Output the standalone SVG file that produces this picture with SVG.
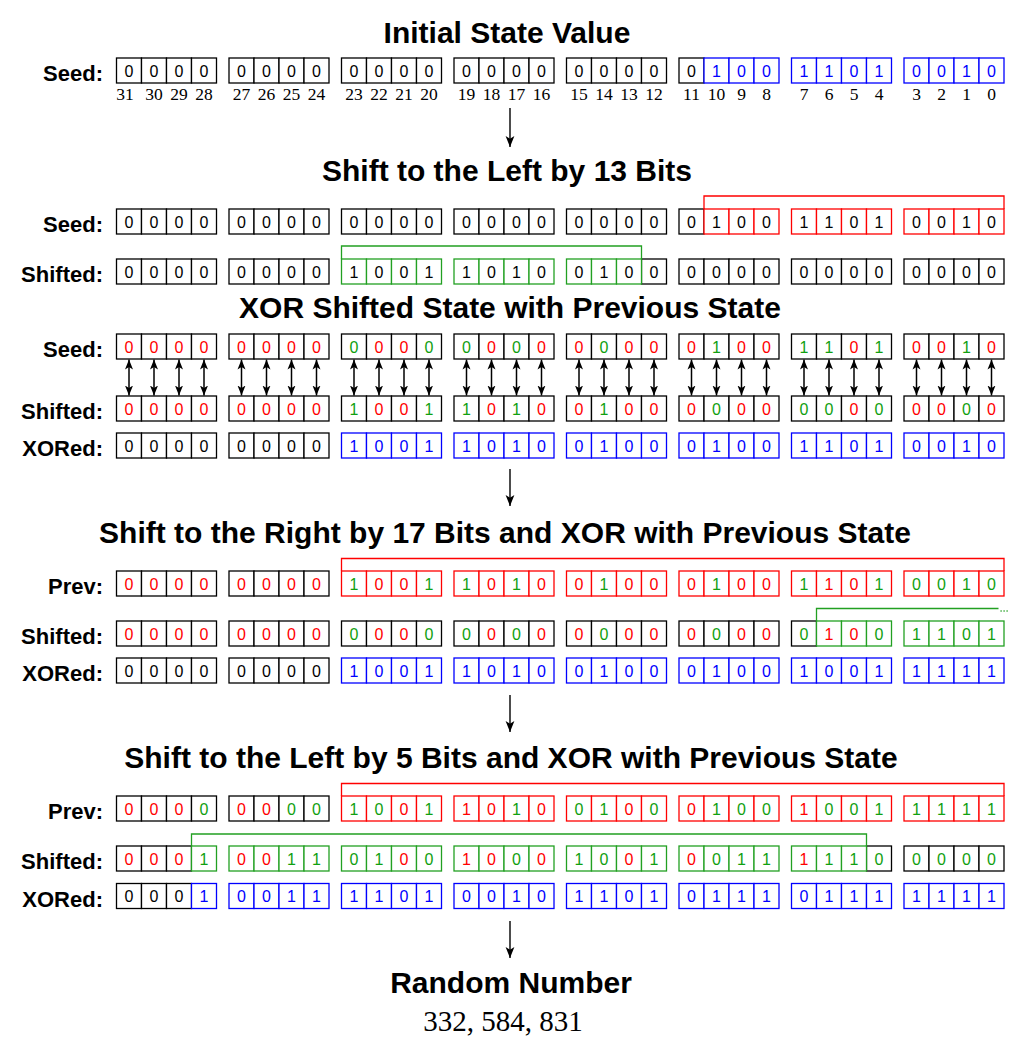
<svg xmlns="http://www.w3.org/2000/svg" width="1026" height="1057" viewBox="0 0 1026 1057">
<style>
rect.ck,rect.cr,rect.cg,rect.cb{fill:#fff;stroke-width:1.3}
.ck{stroke:#000}.cr{stroke:#f00}.cg{stroke:#22a022}.cb{stroke:#00f}
.d{font-family:"Liberation Sans",Arial,sans-serif;font-size:16px;text-anchor:middle}
.tk{fill:#000}.tr{fill:#f00}.tg{fill:#10a010}.tb{fill:#00f}
.l{font-family:"Liberation Sans",Arial,sans-serif;font-size:22px;font-weight:bold;text-anchor:end}
.t{font-family:"Liberation Sans",Arial,sans-serif;font-size:30px;font-weight:bold;text-anchor:middle}
.n{font-family:"Liberation Serif","Times New Roman",serif;font-size:17.5px;text-anchor:middle}
.ln{fill:none;stroke:#000;stroke-width:1.4}
.da{fill:none;stroke:#000;stroke-width:1.5;marker-start:url(#ah2);marker-end:url(#ah2)}
.br{fill:none;stroke-width:1.3}
</style>
<defs>
<marker id="ah" viewBox="0 0 10 8" refX="10" refY="4" markerWidth="11" markerHeight="10" markerUnits="userSpaceOnUse" orient="auto-start-reverse"><path d="M0,0 L10,4 L0,8 L2.5,4 z" fill="#000"/></marker>
<marker id="ah2" viewBox="0 0 10 8" refX="10" refY="4" markerWidth="10" markerHeight="9" markerUnits="userSpaceOnUse" orient="auto-start-reverse"><path d="M0,0 L10,4 L0,8 L2.5,4 z" fill="#000"/></marker>
</defs>
<rect width="1026" height="1057" fill="#fff"/>

<g id="titles">
<text class="t" x="507" y="43">Initial State Value</text>
<text class="t" x="507" y="181">Shift to the Left by 13 Bits</text>
<text class="t" x="510" y="318">XOR Shifted State with Previous State</text>
<text class="t" x="505" y="543">Shift to the Right by 17 Bits and XOR with Previous State</text>
<text class="t" x="511" y="768">Shift to the Left by 5 Bits and XOR with Previous State</text>
<text class="t" x="511" y="993">Random Number</text>
<text class="n" x="503" y="1031" style="font-size:29px">332, 584, 831</text>
</g>

<g id="init-seed">
<text class="l" x="103" y="81">Seed:</text>
<rect class="ck" x="116.5" y="58" width="25" height="25"/><rect class="ck" x="141.5" y="58" width="25" height="25"/><rect class="ck" x="166.5" y="58" width="25" height="25"/><rect class="ck" x="191.5" y="58" width="25" height="25"/>
<rect class="ck" x="229" y="58" width="25" height="25"/><rect class="ck" x="254" y="58" width="25" height="25"/><rect class="ck" x="279" y="58" width="25" height="25"/><rect class="ck" x="304" y="58" width="25" height="25"/>
<rect class="ck" x="341.5" y="58" width="25" height="25"/><rect class="ck" x="366.5" y="58" width="25" height="25"/><rect class="ck" x="391.5" y="58" width="25" height="25"/><rect class="ck" x="416.5" y="58" width="25" height="25"/>
<rect class="ck" x="454" y="58" width="25" height="25"/><rect class="ck" x="479" y="58" width="25" height="25"/><rect class="ck" x="504" y="58" width="25" height="25"/><rect class="ck" x="529" y="58" width="25" height="25"/>
<rect class="ck" x="566.5" y="58" width="25" height="25"/><rect class="ck" x="591.5" y="58" width="25" height="25"/><rect class="ck" x="616.5" y="58" width="25" height="25"/><rect class="ck" x="641.5" y="58" width="25" height="25"/>
<rect class="ck" x="679" y="58" width="25" height="25"/>
<rect class="cb" x="704" y="58" width="25" height="25"/><rect class="cb" x="729" y="58" width="25" height="25"/><rect class="cb" x="754" y="58" width="25" height="25"/>
<rect class="cb" x="791.5" y="58" width="25" height="25"/><rect class="cb" x="816.5" y="58" width="25" height="25"/><rect class="cb" x="841.5" y="58" width="25" height="25"/><rect class="cb" x="866.5" y="58" width="25" height="25"/>
<rect class="cb" x="904" y="58" width="25" height="25"/><rect class="cb" x="929" y="58" width="25" height="25"/><rect class="cb" x="954" y="58" width="25" height="25"/><rect class="cb" x="979" y="58" width="25" height="25"/>
<text class="d" y="76.5" x="129 154 179 204 241.5 266.5 291.5 316.5 354 379 404 429 466.5 491.5 516.5 541.5 579 604 629 654 691.5 716.5 741.5 766.5 804 829 854 879 916.5 941.5 966.5 991.5"><tspan class="tk">000000000000000000000</tspan><tspan class="tb">10011010010</tspan></text>
<text class="n" y="100"><tspan x="125">31</tspan><tspan x="154">30</tspan><tspan x="179">29</tspan><tspan x="204">28</tspan><tspan x="241.5">27</tspan><tspan x="266.5">26</tspan><tspan x="291.5">25</tspan><tspan x="316.5">24</tspan><tspan x="354">23</tspan><tspan x="379">22</tspan><tspan x="404">21</tspan><tspan x="429">20</tspan><tspan x="466.5">19</tspan><tspan x="491.5">18</tspan><tspan x="516.5">17</tspan><tspan x="541.5">16</tspan><tspan x="579">15</tspan><tspan x="604">14</tspan><tspan x="629">13</tspan><tspan x="654">12</tspan><tspan x="691.5">11</tspan><tspan x="716.5">10</tspan><tspan x="741.5">9</tspan><tspan x="766.5">8</tspan><tspan x="804">7</tspan><tspan x="829">6</tspan><tspan x="854">5</tspan><tspan x="879">4</tspan><tspan x="916.5">3</tspan><tspan x="941.5">2</tspan><tspan x="966.5">1</tspan><tspan x="991.5">0</tspan></text>
</g>

<g id="shl13-seed">
<text class="l" x="103" y="232">Seed:</text>
<rect class="ck" x="116.5" y="209" width="25" height="25"/><rect class="ck" x="141.5" y="209" width="25" height="25"/><rect class="ck" x="166.5" y="209" width="25" height="25"/><rect class="ck" x="191.5" y="209" width="25" height="25"/>
<rect class="ck" x="229" y="209" width="25" height="25"/><rect class="ck" x="254" y="209" width="25" height="25"/><rect class="ck" x="279" y="209" width="25" height="25"/><rect class="ck" x="304" y="209" width="25" height="25"/>
<rect class="ck" x="341.5" y="209" width="25" height="25"/><rect class="ck" x="366.5" y="209" width="25" height="25"/><rect class="ck" x="391.5" y="209" width="25" height="25"/><rect class="ck" x="416.5" y="209" width="25" height="25"/>
<rect class="ck" x="454" y="209" width="25" height="25"/><rect class="ck" x="479" y="209" width="25" height="25"/><rect class="ck" x="504" y="209" width="25" height="25"/><rect class="ck" x="529" y="209" width="25" height="25"/>
<rect class="ck" x="566.5" y="209" width="25" height="25"/><rect class="ck" x="591.5" y="209" width="25" height="25"/><rect class="ck" x="616.5" y="209" width="25" height="25"/><rect class="ck" x="641.5" y="209" width="25" height="25"/>
<rect class="ck" x="679" y="209" width="25" height="25"/>
<rect class="cr" x="704" y="209" width="25" height="25"/><rect class="cr" x="729" y="209" width="25" height="25"/><rect class="cr" x="754" y="209" width="25" height="25"/>
<rect class="cr" x="791.5" y="209" width="25" height="25"/><rect class="cr" x="816.5" y="209" width="25" height="25"/><rect class="cr" x="841.5" y="209" width="25" height="25"/><rect class="cr" x="866.5" y="209" width="25" height="25"/>
<rect class="cr" x="904" y="209" width="25" height="25"/><rect class="cr" x="929" y="209" width="25" height="25"/><rect class="cr" x="954" y="209" width="25" height="25"/><rect class="cr" x="979" y="209" width="25" height="25"/>
<text class="d tk" y="227.5" x="129 154 179 204 241.5 266.5 291.5 316.5 354 379 404 429 466.5 491.5 516.5 541.5 579 604 629 654 691.5 716.5 741.5 766.5 804 829 854 879 916.5 941.5 966.5 991.5">00000000000000000000010011010010</text>
</g>

<g id="shl13-shifted">
<text class="l" x="103" y="282">Shifted:</text>
<rect class="ck" x="116.5" y="259" width="25" height="25"/><rect class="ck" x="141.5" y="259" width="25" height="25"/><rect class="ck" x="166.5" y="259" width="25" height="25"/><rect class="ck" x="191.5" y="259" width="25" height="25"/>
<rect class="ck" x="229" y="259" width="25" height="25"/><rect class="ck" x="254" y="259" width="25" height="25"/><rect class="ck" x="279" y="259" width="25" height="25"/><rect class="ck" x="304" y="259" width="25" height="25"/>
<rect class="ck" x="641.5" y="259" width="25" height="25"/>
<rect class="ck" x="679" y="259" width="25" height="25"/><rect class="ck" x="704" y="259" width="25" height="25"/><rect class="ck" x="729" y="259" width="25" height="25"/><rect class="ck" x="754" y="259" width="25" height="25"/>
<rect class="ck" x="791.5" y="259" width="25" height="25"/><rect class="ck" x="816.5" y="259" width="25" height="25"/><rect class="ck" x="841.5" y="259" width="25" height="25"/><rect class="ck" x="866.5" y="259" width="25" height="25"/>
<rect class="ck" x="904" y="259" width="25" height="25"/><rect class="ck" x="929" y="259" width="25" height="25"/><rect class="ck" x="954" y="259" width="25" height="25"/><rect class="ck" x="979" y="259" width="25" height="25"/>
<rect class="cg" x="341.5" y="259" width="25" height="25"/><rect class="cg" x="366.5" y="259" width="25" height="25"/><rect class="cg" x="391.5" y="259" width="25" height="25"/><rect class="cg" x="416.5" y="259" width="25" height="25"/>
<rect class="cg" x="454" y="259" width="25" height="25"/><rect class="cg" x="479" y="259" width="25" height="25"/><rect class="cg" x="504" y="259" width="25" height="25"/><rect class="cg" x="529" y="259" width="25" height="25"/>
<rect class="cg" x="566.5" y="259" width="25" height="25"/><rect class="cg" x="591.5" y="259" width="25" height="25"/><rect class="cg" x="616.5" y="259" width="25" height="25"/>
<text class="d tk" y="277.5" x="129 154 179 204 241.5 266.5 291.5 316.5 354 379 404 429 466.5 491.5 516.5 541.5 579 604 629 654 691.5 716.5 741.5 766.5 804 829 854 879 916.5 941.5 966.5 991.5">00000000100110100100000000000000</text>
</g>

<g id="xor-seed">
<text class="l" x="103" y="357">Seed:</text>
<rect class="ck" x="116.5" y="334" width="25" height="25"/><rect class="ck" x="141.5" y="334" width="25" height="25"/><rect class="ck" x="166.5" y="334" width="25" height="25"/><rect class="ck" x="191.5" y="334" width="25" height="25"/>
<rect class="ck" x="229" y="334" width="25" height="25"/><rect class="ck" x="254" y="334" width="25" height="25"/><rect class="ck" x="279" y="334" width="25" height="25"/><rect class="ck" x="304" y="334" width="25" height="25"/>
<rect class="ck" x="341.5" y="334" width="25" height="25"/><rect class="ck" x="366.5" y="334" width="25" height="25"/><rect class="ck" x="391.5" y="334" width="25" height="25"/><rect class="ck" x="416.5" y="334" width="25" height="25"/>
<rect class="ck" x="454" y="334" width="25" height="25"/><rect class="ck" x="479" y="334" width="25" height="25"/><rect class="ck" x="504" y="334" width="25" height="25"/><rect class="ck" x="529" y="334" width="25" height="25"/>
<rect class="ck" x="566.5" y="334" width="25" height="25"/><rect class="ck" x="591.5" y="334" width="25" height="25"/><rect class="ck" x="616.5" y="334" width="25" height="25"/><rect class="ck" x="641.5" y="334" width="25" height="25"/>
<rect class="ck" x="679" y="334" width="25" height="25"/><rect class="ck" x="704" y="334" width="25" height="25"/><rect class="ck" x="729" y="334" width="25" height="25"/><rect class="ck" x="754" y="334" width="25" height="25"/>
<rect class="ck" x="791.5" y="334" width="25" height="25"/><rect class="ck" x="816.5" y="334" width="25" height="25"/><rect class="ck" x="841.5" y="334" width="25" height="25"/><rect class="ck" x="866.5" y="334" width="25" height="25"/>
<rect class="ck" x="904" y="334" width="25" height="25"/><rect class="ck" x="929" y="334" width="25" height="25"/><rect class="ck" x="954" y="334" width="25" height="25"/><rect class="ck" x="979" y="334" width="25" height="25"/>
<text class="d" y="352.5" x="129 154 179 204 241.5 266.5 291.5 316.5 354 379 404 429 466.5 491.5 516.5 541.5 579 604 629 654 691.5 716.5 741.5 766.5 804 829 854 879 916.5 941.5 966.5 991.5"><tspan class="tr">00000000</tspan><tspan class="tg">0</tspan><tspan class="tr">00</tspan><tspan class="tg">00</tspan><tspan class="tr">0</tspan><tspan class="tg">0</tspan><tspan class="tr">00</tspan><tspan class="tg">0</tspan><tspan class="tr">000</tspan><tspan class="tg">1</tspan><tspan class="tr">00</tspan><tspan class="tg">11</tspan><tspan class="tr">0</tspan><tspan class="tg">1</tspan><tspan class="tr">00</tspan><tspan class="tg">1</tspan><tspan class="tr">0</tspan></text>
</g>

<g id="xor-shifted">
<text class="l" x="103" y="419">Shifted:</text>
<rect class="ck" x="116.5" y="396" width="25" height="25"/><rect class="ck" x="141.5" y="396" width="25" height="25"/><rect class="ck" x="166.5" y="396" width="25" height="25"/><rect class="ck" x="191.5" y="396" width="25" height="25"/>
<rect class="ck" x="229" y="396" width="25" height="25"/><rect class="ck" x="254" y="396" width="25" height="25"/><rect class="ck" x="279" y="396" width="25" height="25"/><rect class="ck" x="304" y="396" width="25" height="25"/>
<rect class="ck" x="341.5" y="396" width="25" height="25"/><rect class="ck" x="366.5" y="396" width="25" height="25"/><rect class="ck" x="391.5" y="396" width="25" height="25"/><rect class="ck" x="416.5" y="396" width="25" height="25"/>
<rect class="ck" x="454" y="396" width="25" height="25"/><rect class="ck" x="479" y="396" width="25" height="25"/><rect class="ck" x="504" y="396" width="25" height="25"/><rect class="ck" x="529" y="396" width="25" height="25"/>
<rect class="ck" x="566.5" y="396" width="25" height="25"/><rect class="ck" x="591.5" y="396" width="25" height="25"/><rect class="ck" x="616.5" y="396" width="25" height="25"/><rect class="ck" x="641.5" y="396" width="25" height="25"/>
<rect class="ck" x="679" y="396" width="25" height="25"/><rect class="ck" x="704" y="396" width="25" height="25"/><rect class="ck" x="729" y="396" width="25" height="25"/><rect class="ck" x="754" y="396" width="25" height="25"/>
<rect class="ck" x="791.5" y="396" width="25" height="25"/><rect class="ck" x="816.5" y="396" width="25" height="25"/><rect class="ck" x="841.5" y="396" width="25" height="25"/><rect class="ck" x="866.5" y="396" width="25" height="25"/>
<rect class="ck" x="904" y="396" width="25" height="25"/><rect class="ck" x="929" y="396" width="25" height="25"/><rect class="ck" x="954" y="396" width="25" height="25"/><rect class="ck" x="979" y="396" width="25" height="25"/>
<text class="d" y="414.5" x="129 154 179 204 241.5 266.5 291.5 316.5 354 379 404 429 466.5 491.5 516.5 541.5 579 604 629 654 691.5 716.5 741.5 766.5 804 829 854 879 916.5 941.5 966.5 991.5"><tspan class="tr">00000000</tspan><tspan class="tg">1</tspan><tspan class="tr">00</tspan><tspan class="tg">11</tspan><tspan class="tr">0</tspan><tspan class="tg">1</tspan><tspan class="tr">00</tspan><tspan class="tg">1</tspan><tspan class="tr">000</tspan><tspan class="tg">0</tspan><tspan class="tr">00</tspan><tspan class="tg">00</tspan><tspan class="tr">0</tspan><tspan class="tg">0</tspan><tspan class="tr">00</tspan><tspan class="tg">0</tspan><tspan class="tr">0</tspan></text>
</g>

<g id="xor-result">
<text class="l" x="103" y="456">XORed:</text>
<rect class="ck" x="116.5" y="433" width="25" height="25"/><rect class="ck" x="141.5" y="433" width="25" height="25"/><rect class="ck" x="166.5" y="433" width="25" height="25"/><rect class="ck" x="191.5" y="433" width="25" height="25"/>
<rect class="ck" x="229" y="433" width="25" height="25"/><rect class="ck" x="254" y="433" width="25" height="25"/><rect class="ck" x="279" y="433" width="25" height="25"/><rect class="ck" x="304" y="433" width="25" height="25"/>
<rect class="cb" x="341.5" y="433" width="25" height="25"/><rect class="cb" x="366.5" y="433" width="25" height="25"/><rect class="cb" x="391.5" y="433" width="25" height="25"/><rect class="cb" x="416.5" y="433" width="25" height="25"/>
<rect class="cb" x="454" y="433" width="25" height="25"/><rect class="cb" x="479" y="433" width="25" height="25"/><rect class="cb" x="504" y="433" width="25" height="25"/><rect class="cb" x="529" y="433" width="25" height="25"/>
<rect class="cb" x="566.5" y="433" width="25" height="25"/><rect class="cb" x="591.5" y="433" width="25" height="25"/><rect class="cb" x="616.5" y="433" width="25" height="25"/><rect class="cb" x="641.5" y="433" width="25" height="25"/>
<rect class="cb" x="679" y="433" width="25" height="25"/><rect class="cb" x="704" y="433" width="25" height="25"/><rect class="cb" x="729" y="433" width="25" height="25"/><rect class="cb" x="754" y="433" width="25" height="25"/>
<rect class="cb" x="791.5" y="433" width="25" height="25"/><rect class="cb" x="816.5" y="433" width="25" height="25"/><rect class="cb" x="841.5" y="433" width="25" height="25"/><rect class="cb" x="866.5" y="433" width="25" height="25"/>
<rect class="cb" x="904" y="433" width="25" height="25"/><rect class="cb" x="929" y="433" width="25" height="25"/><rect class="cb" x="954" y="433" width="25" height="25"/><rect class="cb" x="979" y="433" width="25" height="25"/>
<text class="d" y="451.5" x="129 154 179 204 241.5 266.5 291.5 316.5 354 379 404 429 466.5 491.5 516.5 541.5 579 604 629 654 691.5 716.5 741.5 766.5 804 829 854 879 916.5 941.5 966.5 991.5"><tspan class="tk">00000000</tspan><tspan class="tb">100110100100010011010010</tspan></text>
</g>

<g id="shr17-prev">
<text class="l" x="103" y="594">Prev:</text>
<rect class="ck" x="116.5" y="571" width="25" height="25"/><rect class="ck" x="141.5" y="571" width="25" height="25"/><rect class="ck" x="166.5" y="571" width="25" height="25"/><rect class="ck" x="191.5" y="571" width="25" height="25"/>
<rect class="ck" x="229" y="571" width="25" height="25"/><rect class="ck" x="254" y="571" width="25" height="25"/><rect class="ck" x="279" y="571" width="25" height="25"/><rect class="ck" x="304" y="571" width="25" height="25"/>
<rect class="cr" x="341.5" y="571" width="25" height="25"/><rect class="cr" x="366.5" y="571" width="25" height="25"/><rect class="cr" x="391.5" y="571" width="25" height="25"/><rect class="cr" x="416.5" y="571" width="25" height="25"/>
<rect class="cr" x="454" y="571" width="25" height="25"/><rect class="cr" x="479" y="571" width="25" height="25"/><rect class="cr" x="504" y="571" width="25" height="25"/><rect class="cr" x="529" y="571" width="25" height="25"/>
<rect class="cr" x="566.5" y="571" width="25" height="25"/><rect class="cr" x="591.5" y="571" width="25" height="25"/><rect class="cr" x="616.5" y="571" width="25" height="25"/><rect class="cr" x="641.5" y="571" width="25" height="25"/>
<rect class="cr" x="679" y="571" width="25" height="25"/><rect class="cr" x="704" y="571" width="25" height="25"/><rect class="cr" x="729" y="571" width="25" height="25"/><rect class="cr" x="754" y="571" width="25" height="25"/>
<rect class="cr" x="791.5" y="571" width="25" height="25"/><rect class="cr" x="816.5" y="571" width="25" height="25"/><rect class="cr" x="841.5" y="571" width="25" height="25"/><rect class="cr" x="866.5" y="571" width="25" height="25"/>
<rect class="cr" x="904" y="571" width="25" height="25"/><rect class="cr" x="929" y="571" width="25" height="25"/><rect class="cr" x="954" y="571" width="25" height="25"/><rect class="cr" x="979" y="571" width="25" height="25"/>
<text class="d" y="589.5" x="129 154 179 204 241.5 266.5 291.5 316.5 354 379 404 429 466.5 491.5 516.5 541.5 579 604 629 654 691.5 716.5 741.5 766.5 804 829 854 879 916.5 941.5 966.5 991.5"><tspan class="tr">00000000</tspan><tspan class="tg">1</tspan><tspan class="tr">00</tspan><tspan class="tg">11</tspan><tspan class="tr">0</tspan><tspan class="tg">1</tspan><tspan class="tr">00</tspan><tspan class="tg">1</tspan><tspan class="tr">000</tspan><tspan class="tg">1</tspan><tspan class="tr">00</tspan><tspan class="tg">1</tspan><tspan class="tr">10</tspan><tspan class="tg">10010</tspan></text>
</g>

<g id="shr17-shifted">
<text class="l" x="103" y="644">Shifted:</text>
<rect class="ck" x="116.5" y="621" width="25" height="25"/><rect class="ck" x="141.5" y="621" width="25" height="25"/><rect class="ck" x="166.5" y="621" width="25" height="25"/><rect class="ck" x="191.5" y="621" width="25" height="25"/>
<rect class="ck" x="229" y="621" width="25" height="25"/><rect class="ck" x="254" y="621" width="25" height="25"/><rect class="ck" x="279" y="621" width="25" height="25"/><rect class="ck" x="304" y="621" width="25" height="25"/>
<rect class="ck" x="341.5" y="621" width="25" height="25"/><rect class="ck" x="366.5" y="621" width="25" height="25"/><rect class="ck" x="391.5" y="621" width="25" height="25"/><rect class="ck" x="416.5" y="621" width="25" height="25"/>
<rect class="ck" x="454" y="621" width="25" height="25"/><rect class="ck" x="479" y="621" width="25" height="25"/><rect class="ck" x="504" y="621" width="25" height="25"/><rect class="ck" x="529" y="621" width="25" height="25"/>
<rect class="ck" x="566.5" y="621" width="25" height="25"/><rect class="ck" x="591.5" y="621" width="25" height="25"/><rect class="ck" x="616.5" y="621" width="25" height="25"/><rect class="ck" x="641.5" y="621" width="25" height="25"/>
<rect class="ck" x="679" y="621" width="25" height="25"/><rect class="ck" x="704" y="621" width="25" height="25"/><rect class="ck" x="729" y="621" width="25" height="25"/><rect class="ck" x="754" y="621" width="25" height="25"/>
<rect class="ck" x="791.5" y="621" width="25" height="25"/>
<rect class="cg" x="816.5" y="621" width="25" height="25"/><rect class="cg" x="841.5" y="621" width="25" height="25"/><rect class="cg" x="866.5" y="621" width="25" height="25"/>
<rect class="cg" x="904" y="621" width="25" height="25"/><rect class="cg" x="929" y="621" width="25" height="25"/><rect class="cg" x="954" y="621" width="25" height="25"/><rect class="cg" x="979" y="621" width="25" height="25"/>
<text class="d" y="639.5" x="129 154 179 204 241.5 266.5 291.5 316.5 354 379 404 429 466.5 491.5 516.5 541.5 579 604 629 654 691.5 716.5 741.5 766.5 804 829 854 879 916.5 941.5 966.5 991.5"><tspan class="tr">00000000</tspan><tspan class="tg">0</tspan><tspan class="tr">00</tspan><tspan class="tg">00</tspan><tspan class="tr">0</tspan><tspan class="tg">0</tspan><tspan class="tr">00</tspan><tspan class="tg">0</tspan><tspan class="tr">000</tspan><tspan class="tg">0</tspan><tspan class="tr">00</tspan><tspan class="tg">0</tspan><tspan class="tr">10</tspan><tspan class="tg">01101</tspan></text>
</g>

<g id="shr17-result">
<text class="l" x="103" y="681">XORed:</text>
<rect class="ck" x="116.5" y="658" width="25" height="25"/><rect class="ck" x="141.5" y="658" width="25" height="25"/><rect class="ck" x="166.5" y="658" width="25" height="25"/><rect class="ck" x="191.5" y="658" width="25" height="25"/>
<rect class="ck" x="229" y="658" width="25" height="25"/><rect class="ck" x="254" y="658" width="25" height="25"/><rect class="ck" x="279" y="658" width="25" height="25"/><rect class="ck" x="304" y="658" width="25" height="25"/>
<rect class="cb" x="341.5" y="658" width="25" height="25"/><rect class="cb" x="366.5" y="658" width="25" height="25"/><rect class="cb" x="391.5" y="658" width="25" height="25"/><rect class="cb" x="416.5" y="658" width="25" height="25"/>
<rect class="cb" x="454" y="658" width="25" height="25"/><rect class="cb" x="479" y="658" width="25" height="25"/><rect class="cb" x="504" y="658" width="25" height="25"/><rect class="cb" x="529" y="658" width="25" height="25"/>
<rect class="cb" x="566.5" y="658" width="25" height="25"/><rect class="cb" x="591.5" y="658" width="25" height="25"/><rect class="cb" x="616.5" y="658" width="25" height="25"/><rect class="cb" x="641.5" y="658" width="25" height="25"/>
<rect class="cb" x="679" y="658" width="25" height="25"/><rect class="cb" x="704" y="658" width="25" height="25"/><rect class="cb" x="729" y="658" width="25" height="25"/><rect class="cb" x="754" y="658" width="25" height="25"/>
<rect class="cb" x="791.5" y="658" width="25" height="25"/><rect class="cb" x="816.5" y="658" width="25" height="25"/><rect class="cb" x="841.5" y="658" width="25" height="25"/><rect class="cb" x="866.5" y="658" width="25" height="25"/>
<rect class="cb" x="904" y="658" width="25" height="25"/><rect class="cb" x="929" y="658" width="25" height="25"/><rect class="cb" x="954" y="658" width="25" height="25"/><rect class="cb" x="979" y="658" width="25" height="25"/>
<text class="d" y="676.5" x="129 154 179 204 241.5 266.5 291.5 316.5 354 379 404 429 466.5 491.5 516.5 541.5 579 604 629 654 691.5 716.5 741.5 766.5 804 829 854 879 916.5 941.5 966.5 991.5"><tspan class="tk">00000000</tspan><tspan class="tb">100110100100010010011111</tspan></text>
</g>

<g id="shl5-prev">
<text class="l" x="103" y="819">Prev:</text>
<rect class="ck" x="116.5" y="796" width="25" height="25"/><rect class="ck" x="141.5" y="796" width="25" height="25"/><rect class="ck" x="166.5" y="796" width="25" height="25"/><rect class="ck" x="191.5" y="796" width="25" height="25"/>
<rect class="ck" x="229" y="796" width="25" height="25"/><rect class="ck" x="254" y="796" width="25" height="25"/><rect class="ck" x="279" y="796" width="25" height="25"/><rect class="ck" x="304" y="796" width="25" height="25"/>
<rect class="cr" x="341.5" y="796" width="25" height="25"/><rect class="cr" x="366.5" y="796" width="25" height="25"/><rect class="cr" x="391.5" y="796" width="25" height="25"/><rect class="cr" x="416.5" y="796" width="25" height="25"/>
<rect class="cr" x="454" y="796" width="25" height="25"/><rect class="cr" x="479" y="796" width="25" height="25"/><rect class="cr" x="504" y="796" width="25" height="25"/><rect class="cr" x="529" y="796" width="25" height="25"/>
<rect class="cr" x="566.5" y="796" width="25" height="25"/><rect class="cr" x="591.5" y="796" width="25" height="25"/><rect class="cr" x="616.5" y="796" width="25" height="25"/><rect class="cr" x="641.5" y="796" width="25" height="25"/>
<rect class="cr" x="679" y="796" width="25" height="25"/><rect class="cr" x="704" y="796" width="25" height="25"/><rect class="cr" x="729" y="796" width="25" height="25"/><rect class="cr" x="754" y="796" width="25" height="25"/>
<rect class="cr" x="791.5" y="796" width="25" height="25"/><rect class="cr" x="816.5" y="796" width="25" height="25"/><rect class="cr" x="841.5" y="796" width="25" height="25"/><rect class="cr" x="866.5" y="796" width="25" height="25"/>
<rect class="cr" x="904" y="796" width="25" height="25"/><rect class="cr" x="929" y="796" width="25" height="25"/><rect class="cr" x="954" y="796" width="25" height="25"/><rect class="cr" x="979" y="796" width="25" height="25"/>
<text class="d" y="814.5" x="129 154 179 204 241.5 266.5 291.5 316.5 354 379 404 429 466.5 491.5 516.5 541.5 579 604 629 654 691.5 716.5 741.5 766.5 804 829 854 879 916.5 941.5 966.5 991.5"><tspan class="tr">000</tspan><tspan class="tg">0</tspan><tspan class="tr">00</tspan><tspan class="tg">0010</tspan><tspan class="tr">0</tspan><tspan class="tg">1</tspan><tspan class="tr">10</tspan><tspan class="tg">1</tspan><tspan class="tr">0</tspan><tspan class="tg">01</tspan><tspan class="tr">0</tspan><tspan class="tg">0</tspan><tspan class="tr">0</tspan><tspan class="tg">100</tspan><tspan class="tr">1</tspan><tspan class="tg">0011111</tspan></text>
</g>

<g id="shl5-shifted">
<text class="l" x="103" y="869">Shifted:</text>
<rect class="ck" x="116.5" y="846" width="25" height="25"/><rect class="ck" x="141.5" y="846" width="25" height="25"/><rect class="ck" x="166.5" y="846" width="25" height="25"/>
<rect class="ck" x="866.5" y="846" width="25" height="25"/>
<rect class="ck" x="904" y="846" width="25" height="25"/><rect class="ck" x="929" y="846" width="25" height="25"/><rect class="ck" x="954" y="846" width="25" height="25"/><rect class="ck" x="979" y="846" width="25" height="25"/>
<rect class="cg" x="191.5" y="846" width="25" height="25"/>
<rect class="cg" x="229" y="846" width="25" height="25"/><rect class="cg" x="254" y="846" width="25" height="25"/><rect class="cg" x="279" y="846" width="25" height="25"/><rect class="cg" x="304" y="846" width="25" height="25"/>
<rect class="cg" x="341.5" y="846" width="25" height="25"/><rect class="cg" x="366.5" y="846" width="25" height="25"/><rect class="cg" x="391.5" y="846" width="25" height="25"/><rect class="cg" x="416.5" y="846" width="25" height="25"/>
<rect class="cg" x="454" y="846" width="25" height="25"/><rect class="cg" x="479" y="846" width="25" height="25"/><rect class="cg" x="504" y="846" width="25" height="25"/><rect class="cg" x="529" y="846" width="25" height="25"/>
<rect class="cg" x="566.5" y="846" width="25" height="25"/><rect class="cg" x="591.5" y="846" width="25" height="25"/><rect class="cg" x="616.5" y="846" width="25" height="25"/><rect class="cg" x="641.5" y="846" width="25" height="25"/>
<rect class="cg" x="679" y="846" width="25" height="25"/><rect class="cg" x="704" y="846" width="25" height="25"/><rect class="cg" x="729" y="846" width="25" height="25"/><rect class="cg" x="754" y="846" width="25" height="25"/>
<rect class="cg" x="791.5" y="846" width="25" height="25"/><rect class="cg" x="816.5" y="846" width="25" height="25"/><rect class="cg" x="841.5" y="846" width="25" height="25"/>
<text class="d" y="864.5" x="129 154 179 204 241.5 266.5 291.5 316.5 354 379 404 429 466.5 491.5 516.5 541.5 579 604 629 654 691.5 716.5 741.5 766.5 804 829 854 879 916.5 941.5 966.5 991.5"><tspan class="tr">000</tspan><tspan class="tg">1</tspan><tspan class="tr">00</tspan><tspan class="tg">1101</tspan><tspan class="tr">0</tspan><tspan class="tg">0</tspan><tspan class="tr">10</tspan><tspan class="tg">0</tspan><tspan class="tr">0</tspan><tspan class="tg">10</tspan><tspan class="tr">0</tspan><tspan class="tg">1</tspan><tspan class="tr">0</tspan><tspan class="tg">011</tspan><tspan class="tr">1</tspan><tspan class="tg">1100000</tspan></text>
</g>

<g id="shl5-result">
<text class="l" x="103" y="906.5">XORed:</text>
<rect class="ck" x="116.5" y="883.5" width="25" height="25"/><rect class="ck" x="141.5" y="883.5" width="25" height="25"/><rect class="ck" x="166.5" y="883.5" width="25" height="25"/>
<rect class="cb" x="191.5" y="883.5" width="25" height="25"/>
<rect class="cb" x="229" y="883.5" width="25" height="25"/><rect class="cb" x="254" y="883.5" width="25" height="25"/><rect class="cb" x="279" y="883.5" width="25" height="25"/><rect class="cb" x="304" y="883.5" width="25" height="25"/>
<rect class="cb" x="341.5" y="883.5" width="25" height="25"/><rect class="cb" x="366.5" y="883.5" width="25" height="25"/><rect class="cb" x="391.5" y="883.5" width="25" height="25"/><rect class="cb" x="416.5" y="883.5" width="25" height="25"/>
<rect class="cb" x="454" y="883.5" width="25" height="25"/><rect class="cb" x="479" y="883.5" width="25" height="25"/><rect class="cb" x="504" y="883.5" width="25" height="25"/><rect class="cb" x="529" y="883.5" width="25" height="25"/>
<rect class="cb" x="566.5" y="883.5" width="25" height="25"/><rect class="cb" x="591.5" y="883.5" width="25" height="25"/><rect class="cb" x="616.5" y="883.5" width="25" height="25"/><rect class="cb" x="641.5" y="883.5" width="25" height="25"/>
<rect class="cb" x="679" y="883.5" width="25" height="25"/><rect class="cb" x="704" y="883.5" width="25" height="25"/><rect class="cb" x="729" y="883.5" width="25" height="25"/><rect class="cb" x="754" y="883.5" width="25" height="25"/>
<rect class="cb" x="791.5" y="883.5" width="25" height="25"/><rect class="cb" x="816.5" y="883.5" width="25" height="25"/><rect class="cb" x="841.5" y="883.5" width="25" height="25"/><rect class="cb" x="866.5" y="883.5" width="25" height="25"/>
<rect class="cb" x="904" y="883.5" width="25" height="25"/><rect class="cb" x="929" y="883.5" width="25" height="25"/><rect class="cb" x="954" y="883.5" width="25" height="25"/><rect class="cb" x="979" y="883.5" width="25" height="25"/>
<text class="d" y="902" x="129 154 179 204 241.5 266.5 291.5 316.5 354 379 404 429 466.5 491.5 516.5 541.5 579 604 629 654 691.5 716.5 741.5 766.5 804 829 854 879 916.5 941.5 966.5 991.5"><tspan class="tk">000</tspan><tspan class="tb">10011110100101101011101111111</tspan></text>
</g>

<g id="connectors">
<path class="ln" d="M510,108 V147" marker-end="url(#ah)"/>
<path class="ln" d="M510,469 V506" marker-end="url(#ah)"/>
<path class="ln" d="M510,695 V732" marker-end="url(#ah)"/>
<path class="ln" d="M510,921 V958" marker-end="url(#ah)"/>
<path class="da" d="M129,359.5V395.5"/><path class="da" d="M154,359.5V395.5"/><path class="da" d="M179,359.5V395.5"/><path class="da" d="M204,359.5V395.5"/>
<path class="da" d="M241.5,359.5V395.5"/><path class="da" d="M266.5,359.5V395.5"/><path class="da" d="M291.5,359.5V395.5"/><path class="da" d="M316.5,359.5V395.5"/>
<path class="da" d="M354,359.5V395.5"/><path class="da" d="M379,359.5V395.5"/><path class="da" d="M404,359.5V395.5"/><path class="da" d="M429,359.5V395.5"/>
<path class="da" d="M466.5,359.5V395.5"/><path class="da" d="M491.5,359.5V395.5"/><path class="da" d="M516.5,359.5V395.5"/><path class="da" d="M541.5,359.5V395.5"/>
<path class="da" d="M579,359.5V395.5"/><path class="da" d="M604,359.5V395.5"/><path class="da" d="M629,359.5V395.5"/><path class="da" d="M654,359.5V395.5"/>
<path class="da" d="M691.5,359.5V395.5"/><path class="da" d="M716.5,359.5V395.5"/><path class="da" d="M741.5,359.5V395.5"/><path class="da" d="M766.5,359.5V395.5"/>
<path class="da" d="M804,359.5V395.5"/><path class="da" d="M829,359.5V395.5"/><path class="da" d="M854,359.5V395.5"/><path class="da" d="M879,359.5V395.5"/>
<path class="da" d="M916.5,359.5V395.5"/><path class="da" d="M941.5,359.5V395.5"/><path class="da" d="M966.5,359.5V395.5"/><path class="da" d="M991.5,359.5V395.5"/>
<path class="br" stroke="#f00" d="M704,209 V196 H1004 V209"/>
<path class="br" stroke="#22a022" d="M341.5,259 V246 H641.5 V259"/>
<path class="br" stroke="#f00" d="M341.5,571 V558.5 H1004 V571"/>
<path class="br" stroke="#22a022" d="M816.5,621 V608.5 H998.5"/>
<path class="br" stroke="#22a022" stroke-dasharray="1.2 1.8" d="M1000.5,611 H1009"/>
<path class="br" stroke="#f00" d="M341.5,796 V783.5 H1004 V796"/>
<path class="br" stroke="#22a022" d="M191.5,846 V834 H866.5 V846"/>
</g>
</svg>
